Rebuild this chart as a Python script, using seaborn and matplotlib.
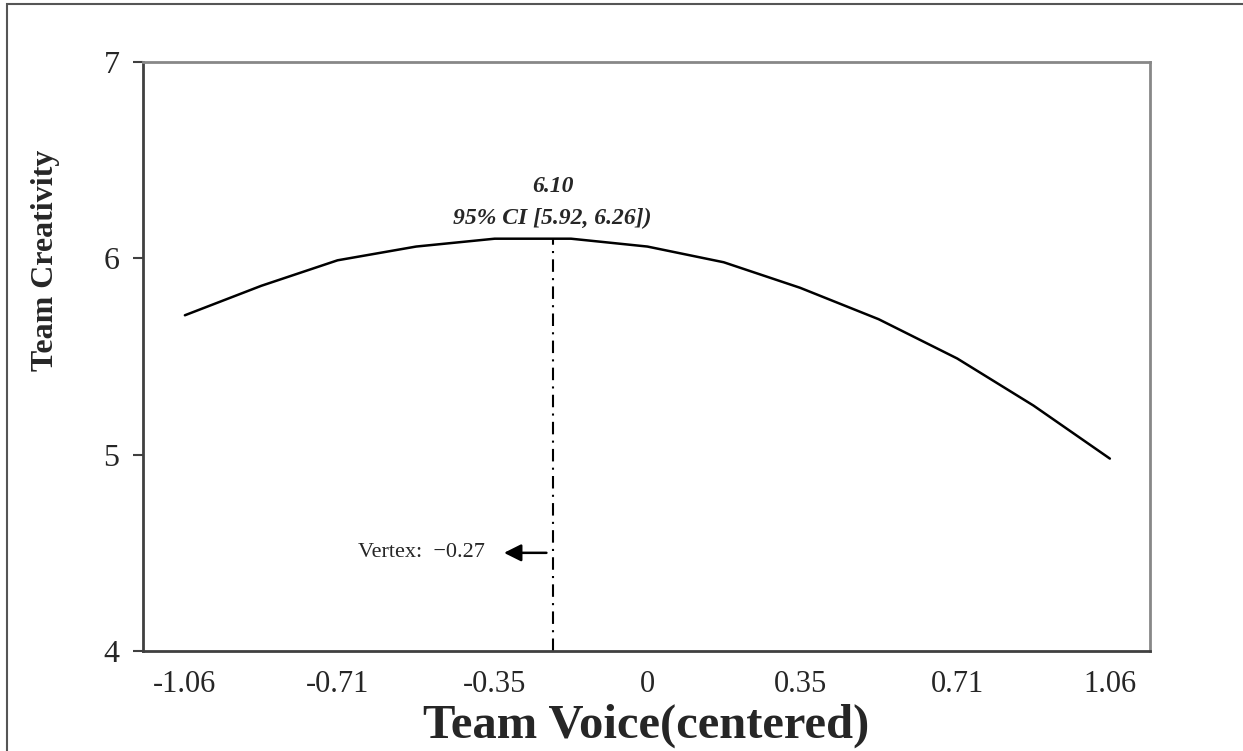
import numpy as np
import pandas as pd
import seaborn as sns
import matplotlib.pyplot as plt
from matplotlib.patches import Rectangle

# ---- data ----
x_ticks = [-1.06, -0.71, -0.35, 0, 0.35, 0.71, 1.06]
x_tick_labels = ["-1.06", "-0.71", "-0.35", "0", "0.35", "0.71", "1.06"]
voice = [-1.06, -0.885, -0.71, -0.53, -0.35, -0.175, 0,
         0.175, 0.35, 0.53, 0.71, 0.885, 1.06]
creativity = [5.71, 5.86, 5.99, 6.06, 6.10, 6.10, 6.06,
              5.98, 5.85, 5.69, 5.49, 5.25, 4.98]
y_ticks = [4, 5, 6, 7]

vertex_line_x = -0.217   # where the dash-dot line is drawn
vertex_peak = 6.10
vertex_label = "Vertex:  \u22120.27"
peak_label = "6.10"
ci_label = "95% CI [5.92, 6.26])"
arrow_y = 4.5

df = pd.DataFrame({"voice": voice, "creativity": creativity})

sns.set_style("white")
plt.rcParams["font.family"] = ["Liberation Serif", "DejaVu Serif"]

fig = plt.figure(figsize=(12.43, 7.51), dpi=100)
ax = fig.add_axes([143 / 1243, 1 - 651 / 751, (1150 - 143) / 1243, (651 - 62) / 751])

sns.lineplot(data=df, x="voice", y="creativity", ax=ax, color="black", linewidth=1.8)

# vertex line
ax.plot([vertex_line_x, vertex_line_x], [4, vertex_peak], color="black",
        linewidth=1.5, linestyle=(0, (6, 3, 1, 3)))

ax.annotate("", xy=(vertex_line_x - 0.118, arrow_y), xytext=(vertex_line_x - 0.008, arrow_y),
            arrowprops=dict(arrowstyle="-|>", color="black", lw=1.8, mutation_scale=26))
ax.text(vertex_line_x - 0.155, arrow_y, vertex_label, ha="right", va="center", fontsize=16)

ax.text(vertex_line_x, 6.365, peak_label, ha="center", va="center", fontsize=17,
        fontweight="bold", fontstyle="italic")
ax.text(vertex_line_x, 6.205, ci_label, ha="center", va="center", fontsize=17,
        fontweight="bold", fontstyle="italic")

ax.set_xlim(-1.156, 1.152)
ax.set_ylim(4, 7)
ax.set_xticks(x_ticks)
ax.set_xticklabels(x_tick_labels)
ax.set_yticks(y_ticks)
ax.tick_params(axis="x", length=0, pad=14, labelsize=22)
ax.tick_params(axis="y", length=7, width=1.5, pad=10, labelsize=23, color="#404040", left=True)

ax.set_xlabel("Team Voice(centered)", fontsize=35, fontweight="bold", labelpad=3)
ax.set_ylabel("Team Creativity", fontsize=23, fontweight="bold")
ax.yaxis.set_label_coords(-0.082, 0.664)

for side in ["left", "bottom"]:
    ax.spines[side].set_color("#404040")
    ax.spines[side].set_linewidth(2)
for side in ["top", "right"]:
    ax.spines[side].set_color("#888888")
    ax.spines[side].set_linewidth(2)

# outer frame (left and top edges visible)
fig.patches.append(Rectangle((7 / 1243, -0.05), 1.1, 0.05 + (751 - 4) / 751,
                             transform=fig.transFigure, fill=False,
                             edgecolor="#555555", linewidth=1.5))

fig.savefig("out.png", dpi=100)
